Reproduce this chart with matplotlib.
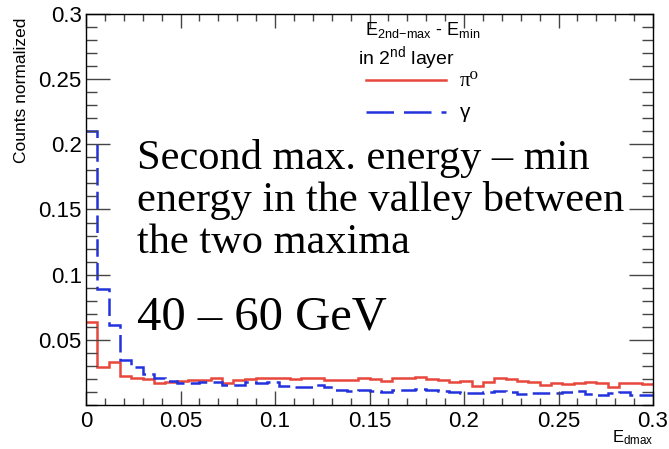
import numpy as np
import matplotlib
matplotlib.use("Agg")
import matplotlib.pyplot as plt
from matplotlib.ticker import MultipleLocator
from matplotlib.lines import Line2D

# ---- data ----
x_min, x_max, n_bins = 0.0, 0.3, 50

pi0_counts = [0.064, 0.029, 0.033, 0.022, 0.0205, 0.0197, 0.017, 0.018, 0.0187, 0.019,
              0.0195, 0.0207, 0.017, 0.0195, 0.020, 0.0205, 0.021, 0.0205, 0.020, 0.0205,
              0.021, 0.019, 0.019, 0.019, 0.0205, 0.0197, 0.0187, 0.0205, 0.021, 0.0217,
              0.0197, 0.0192, 0.018, 0.0184, 0.0148, 0.018, 0.0205, 0.020, 0.0187, 0.018,
              0.0153, 0.0166, 0.0159, 0.0166, 0.018, 0.0166, 0.014, 0.0171, 0.0166, 0.0159]

gamma_counts = [0.21, 0.089, 0.061, 0.0345, 0.029, 0.024, 0.021, 0.0187, 0.0166, 0.0166,
                0.0174, 0.0174, 0.0153, 0.0153, 0.0174, 0.0166, 0.018, 0.0146, 0.014, 0.0136,
                0.0153, 0.0136, 0.0115, 0.0105, 0.0115, 0.0108, 0.0102, 0.0115, 0.0115, 0.012,
                0.0115, 0.011, 0.0102, 0.0095, 0.0095, 0.0102, 0.011, 0.0102, 0.0084, 0.0095,
                0.009, 0.0095, 0.0102, 0.011, 0.0084, 0.0077, 0.009, 0.0102, 0.0074, 0.0077]

x_ticks = [0, 0.05, 0.1, 0.15, 0.2, 0.25, 0.3]
x_tick_labels = ["0", "0.05", "0.1", "0.15", "0.2", "0.25", "0.3"]
y_ticks = [0.05, 0.1, 0.15, 0.2, 0.25, 0.3]
y_tick_labels = ["0.05", "0.1", "0.15", "0.2", "0.25", "0.3"]

red = "#e8473c"
blue = "#2233dd"

plt.rcParams['font.family'] = ['Liberation Sans', 'DejaVu Sans']
plt.rcParams['mathtext.fontset'] = 'custom'
plt.rcParams['mathtext.rm'] = 'Liberation Sans'
plt.rcParams['mathtext.it'] = 'Liberation Sans:italic'

fig = plt.figure(figsize=(6.69, 4.49), dpi=100)
ax = fig.add_axes([86/669, 44/449, (653-86)/669, (405-14)/449])

edges = np.linspace(x_min, x_max, n_bins + 1)
ax.stairs(pi0_counts, edges, color=red, lw=1.8, baseline=None)
ax.stairs(gamma_counts, edges, color=blue, lw=1.8, baseline=None,
          linestyle=(0, (7, 2.5)))

ax.set_xlim(x_min, x_max)
ax.set_ylim(0, 0.3)
ax.set_xticks(x_ticks)
ax.set_xticklabels(x_tick_labels)
ax.set_yticks(y_ticks)
ax.set_yticklabels(y_tick_labels)
ax.xaxis.set_minor_locator(MultipleLocator(0.01))
ax.yaxis.set_minor_locator(MultipleLocator(0.01))
ax.tick_params(axis='both', which='both', direction='in', top=True, right=True,
               labelsize=16, color='#444444', width=1.0)
ax.tick_params(axis='x', which='major', length=10, pad=4)
ax.tick_params(axis='x', which='minor', length=5)
ax.tick_params(axis='y', which='major', length=17, pad=3)
ax.tick_params(axis='y', which='minor', length=8)
for s in ax.spines.values():
    s.set_linewidth(1.0)

fig.text(22/669, 1 - 90/449, "Counts normalized", rotation=90, fontsize=12.5,
         ha='center', va='center')
fig.text(633/669, 1 - 438/449, r"E$_{\mathregular{dmax}}$", fontsize=12,
         ha='center', va='center')

# legend
fig.text(365/669, 1 - 30/449, r"E$_{\mathregular{2nd\!-\!max}}$ - E$_{\mathregular{min}}$",
         fontsize=13, ha='left', va='center')
fig.text(358/669, 1 - 58/449, r"in 2$^{\mathregular{nd}}$ layer", fontsize=14,
         ha='left', va='center')
fig.add_artist(Line2D([366/669, 446/669], [1 - 80/449, 1 - 80/449], color=red, lw=1.8,
                      transform=fig.transFigure))
fig.add_artist(Line2D([366/669, 446/669], [1 - 112/449, 1 - 112/449], color=blue, lw=1.8,
                      linestyle=(0, (11, 4)), transform=fig.transFigure))
fig.text(460/669, 1 - 81/449, "π⁰", fontsize=15, ha='left', va='center',
         family=['Liberation Serif', 'DejaVu Serif'])
fig.text(460/669, 1 - 113/449, "γ", fontsize=15, ha='left', va='center')

serif = ['Liberation Serif', 'DejaVu Serif']
fig.text(137/669, 1 - 158/449, "Second max. energy – min", fontsize=30.5,
         ha='left', va='center', family=serif)
fig.text(137/669, 1 - 200/449, "energy in the valley between", fontsize=30.5,
         ha='left', va='center', family=serif)
fig.text(137/669, 1 - 243/449, "the two maxima", fontsize=30.5,
         ha='left', va='center', family=serif)
fig.text(137/669, 1 - 318/449, "40 – 60 GeV", fontsize=35,
         ha='left', va='center', family=serif)

fig.savefig("out.png", dpi=100)
